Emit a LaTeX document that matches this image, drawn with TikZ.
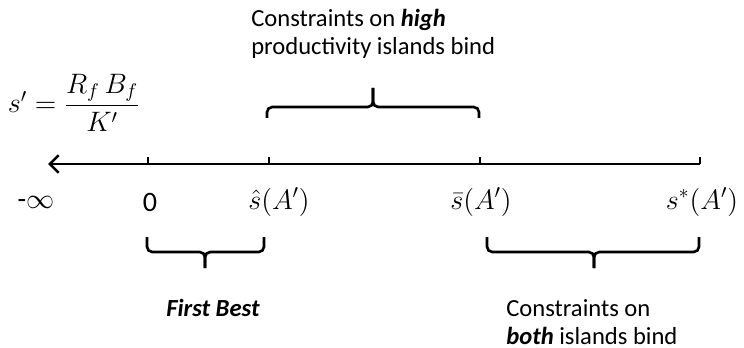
\documentclass[tikz,border=0pt]{standalone}
\usepackage{fix-cm}
\usepackage{amsmath}
\usepackage{fontspec}
\setmainfont{Carlito}
\usepackage{tikz}
\usetikzlibrary{arrows.meta}

\tikzset{
  axislabel/.style={font=\fontsize{16}{18}\selectfont},
  note/.style={font=\fontsize{14}{16}\selectfont, align=left, inner sep=0pt},
  bracepath/.style={line width=1.5pt, rounded corners=3pt},
}

\begin{document}
\begin{tikzpicture}[x=0.02cm,y=-0.02cm,line width=1.5pt]
	\useasboundingbox (0,0) rectangle (744,348);

	% the line and its ticks
	\coordinate (left) at (48,164);
	\coordinate (zero) at (148,164);
	\coordinate (shat) at (269,164);
	\coordinate (sbar) at (480,164);
	\coordinate (sstar) at (700,164);
	\draw[{Straight Barb[length=5pt,width=10pt]}-] (left) -- (sstar);
	\foreach \p in {zero,shat,sbar,sstar}
		\draw (\p) -- ++(0,-7);

	\node[axislabel] (ninf) at (36,202) {-$\infty$};
	\node[axislabel] (nzero) at (150,202) {0};
	\node[axislabel] (nshat) at (279,202) {$\hat{s}(A')$};
	\node[axislabel] (nsbar) at (481,202) {$\bar{s}(A')$};
	\node[axislabel] (nsstar) at (702,202) {$s^{*}(A')$};

	\node[axislabel] (formula) at (74,103) {$s' = \dfrac{R_f\,B_f}{K'}$};

	% braces
	\draw[bracepath] (267,118) -- (267,107) -- (373,107) -- (373,88);
	\draw[bracepath] (373,88) -- (373,107) -- (479,107) -- (479,118);
	\draw[bracepath] (147,237) -- (147,252) -- (205,252) -- (205,268);
	\draw[bracepath] (205,268) -- (205,252) -- (264,252) -- (264,237);
	\draw[bracepath] (487,237) -- (487,252) -- (594,252) -- (594,268);
	\draw[bracepath] (594,268) -- (594,252) -- (699,252) -- (699,237);

	\node[note, anchor=west] (high) at (250,34) {Constraints on \textbf{\textit{high}}\\productivity islands bind};
	\node[note] (first) at (213,308) {\textbf{\textit{First Best}}};
	\node[note, anchor=west] (both) at (505,322) {Constraints on\\\textbf{\textit{both}} islands bind};
\end{tikzpicture}
\end{document}
